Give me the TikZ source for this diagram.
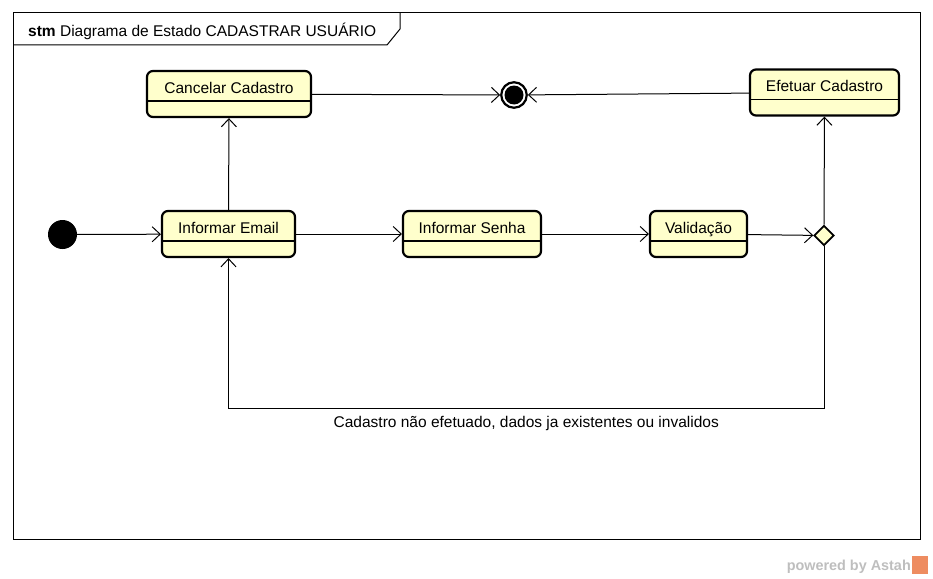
\documentclass[tikz,border=0pt]{standalone}
\usepackage{fontspec}
\setmainfont{Liberation Sans}
\usetikzlibrary{arrows.meta,shapes.geometric}
\definecolor{stateyellow}{RGB}{255,255,204}
\definecolor{astahgray}{RGB}{190,190,190}
\definecolor{astahorange}{RGB}{238,140,96}

\begin{document}
\begin{tikzpicture}[x=1pt,y=-1pt,
  font=\fontsize{15.5}{18}\selectfont,
  state/.style={draw, line width=2.2pt, rounded corners=6pt, fill=stateyellow,
    inner ysep=0pt, text height=22pt, text depth=24pt,
    path picture={\draw[line width=1.2pt] ([yshift=-30pt]path picture bounding box.north west)
      -- ([yshift=-30pt]path picture bounding box.north east);}},
  initial/.style={circle, fill=black, minimum size=29pt, inner sep=0pt},
  final/.style={circle, draw, line width=2.2pt, fill=white, minimum size=25.5pt, inner sep=0pt,
    path picture={\fill[black] (path picture bounding box.center) circle (9.5pt);}},
  decision/.style={diamond, draw, line width=1.8pt, fill=stateyellow, minimum size=20pt, inner sep=0pt},
  trans/.style={line width=1pt, -{Straight Barb[length=8pt,width=15pt]}},
]
\useasboundingbox (0,0) rectangle (933,578);

% frame
\draw[line width=1pt] (13,13) rectangle (920,539);
\draw[line width=1pt] (13,45) -- (387,45) -- (400,29) -- (400,13);
\node[anchor=base west, inner sep=0pt] (titulo) at (28,36.5) {\textbf{stm} Diagrama de Estado CADASTRAR USUÁRIO};

% states
\node[initial] (inicio) at (62.5,234.5) {};
\node[state, minimum width=164] (cancelar) at (229,94) {Cancelar Cadastro};
\node[final] (fim) at (514,95) {};
\node[state, minimum width=149] (efetuar) at (824.5,92.5) {Efetuar Cadastro};
\node[state, minimum width=133] (email) at (228.5,234) {Informar Email};
\node[state, minimum width=138] (senha) at (472,234) {Informar Senha};
\node[state, minimum width=97] (validacao) at (698.5,234) {Validação};
\node[decision] (decisao) at (824,235.5) {};
\coordinate (retorno) at (824,408);

% transitions
\draw[trans] (inicio) -- (email);
\draw[trans] (email) -- (senha);
\draw[trans] (senha) -- (validacao);
\draw[trans] (validacao) -- (decisao);
\draw[trans] (decisao) -- (efetuar);
\draw[trans] (email) -- (cancelar);
\draw[trans] (cancelar) -- (fim);
\draw[trans] (efetuar) -- (fim);
\draw[trans] (decisao) -- (retorno) -| node[pos=0.25, below, yshift=-4pt] {Cadastro não efetuado, dados ja existentes ou invalidos} (email);

% watermark
\node[anchor=base east, inner sep=0pt, text=astahgray, font=\bfseries\fontsize{14.4}{16}\selectfont] (astah) at (911,570) {powered by Astah};
\fill[astahorange] (912,556) rectangle (928,574);

\end{tikzpicture}
\end{document}
